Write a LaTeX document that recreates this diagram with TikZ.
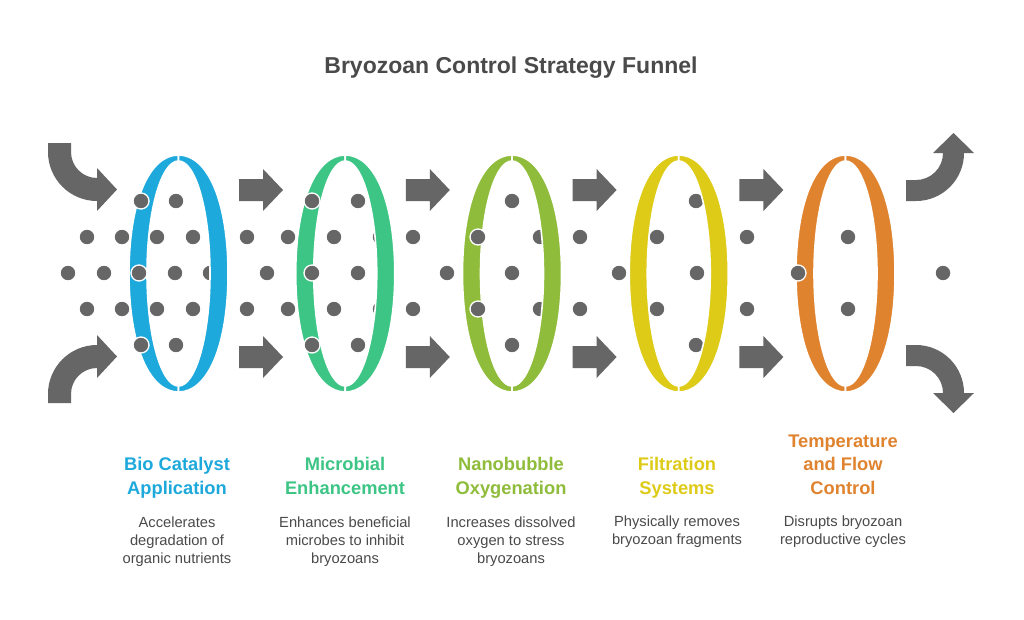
\documentclass[tikz,border=0pt]{standalone}
\usepackage{fontspec}
\setmainfont{Liberation Sans}
\definecolor{cBlue}{HTML}{1DA9DB}
\definecolor{cGreen}{HTML}{3DC585}
\definecolor{cLime}{HTML}{8FBC3B}
\definecolor{cYellow}{HTML}{DECB17}
\definecolor{cOrange}{HTML}{E0832F}
\definecolor{dotgray}{HTML}{666666}
\definecolor{arrowgray}{HTML}{666666}
\definecolor{textgray}{HTML}{4A4A4A}
\begin{document}
\begin{tikzpicture}[x=1pt,y=-1pt,
  dot/.style={fill=dotgray, draw=white, line width=1.3pt},
  crescent/.style={draw=white, line width=1.6pt},
  blockarrow/.style={fill=arrowgray},
  titletext/.style={font=\fontsize{23}{27}\selectfont\bfseries, text=textgray, inner sep=0pt, anchor=base},
  headtext/.style={font=\fontsize{18.3}{22}\selectfont\bfseries, inner sep=0pt, anchor=base},
  desctext/.style={font=\fontsize{14.7}{18}\selectfont, text=textgray, inner sep=0pt, anchor=base}]
\fill[white] (0,0) rectangle (1024,619);
\useasboundingbox (0,0) rectangle (1024,619);

% left halves of rings
\foreach \cx/\col in {178.5/cBlue, 345.25/cGreen, 512/cLime, 678.75/cYellow, 845.5/cOrange}{
  \path[fill=\col, crescent] (\cx,155)
    .. controls (\cx-29.7,155) and (\cx-49.5,202.4) .. (\cx-49.5,273.5)
    .. controls (\cx-49.5,344.6) and (\cx-29.7,392) .. (\cx,392)
    -- (\cx,386)
    .. controls (\cx-17.4,386) and (\cx-31.5,335.6) .. (\cx-31.5,273.5)
    .. controls (\cx-31.5,211.4) and (\cx-17.4,161) .. (\cx,161) -- cycle;
}

% dots
\foreach \x in {141,176,312,358,512,696}{
  \path[dot] (\x,201) circle[radius=8];
  \path[dot] (\x,345) circle[radius=8];
}
\foreach \x in {87,122,157,193,247,288,334,380,413,478,540,580,657,747,848}{
  \path[dot] (\x,237) circle[radius=8];
  \path[dot] (\x,309) circle[radius=8];
}
\foreach \x in {68,104,139,175,210,267,312,358,447,512,619,697,798,943}{
  \path[dot] (\x,273) circle[radius=8];
}

% right halves of rings
\foreach \cx/\col in {178.5/cBlue, 345.25/cGreen, 512/cLime, 678.75/cYellow, 845.5/cOrange}{
  \path[fill=\col, crescent] (\cx,155)
    .. controls (\cx+29.7,155) and (\cx+49.5,202.4) .. (\cx+49.5,273.5)
    .. controls (\cx+49.5,344.6) and (\cx+29.7,392) .. (\cx,392)
    -- (\cx,386)
    .. controls (\cx+17.4,386) and (\cx+31.5,335.6) .. (\cx+31.5,273.5)
    .. controls (\cx+31.5,211.4) and (\cx+17.4,161) .. (\cx,161) -- cycle;
}

% straight arrows between rings
\foreach \ax in {239,405.8,572.6,739.4}{
  \foreach \y in {190,357}{
    \fill[blockarrow] (\ax,\y-11) -- (\ax+24,\y-11) -- (\ax+24,\y-21) -- (\ax+44,\y)
      -- (\ax+24,\y+21) -- (\ax+24,\y+11) -- (\ax,\y+11) -- cycle;
  }
}

% curved arrows in
\fill[blockarrow] (48,143) -- (71,143) -- (71,152)
  arc[start angle=180, end angle=90, radius=26] -- (97,168) -- (117,189.5) -- (97,211) -- (97,201)
  arc[start angle=90, end angle=180, radius=49] -- cycle;
\fill[blockarrow] (48,403) -- (71,403) -- (71,394)
  arc[start angle=180, end angle=270, radius=26] -- (97,378) -- (117,356.5) -- (97,335) -- (97,345)
  arc[start angle=270, end angle=180, radius=49] -- cycle;

% curved arrows out
\fill[blockarrow] (906,180) -- (916,180)
  arc[start angle=90, end angle=0, radius=27] -- (933,153) -- (953.5,133) -- (974,153) -- (964,153)
  arc[start angle=0, end angle=90, radius=48] -- (906,201) -- cycle;
\fill[blockarrow] (906,366) -- (916,366)
  arc[start angle=270, end angle=360, radius=27] -- (933,393) -- (953.5,413) -- (974,393) -- (964,393)
  arc[start angle=360, end angle=270, radius=48] -- (906,345) -- cycle;

% title
\node[titletext] (title) at (511,73) {Bryozoan Control Strategy Funnel};

% headings
\node[headtext, text=cBlue] (h1a) at (177,470.5) {Bio Catalyst};
\node[headtext, text=cBlue] (h1b) at (177,494) {Application};
\node[headtext, text=cGreen] (h2a) at (345,470.5) {Microbial};
\node[headtext, text=cGreen] (h2b) at (345,494) {Enhancement};
\node[headtext, text=cLime] (h3a) at (511,470.5) {Nanobubble};
\node[headtext, text=cLime] (h3b) at (511,494) {Oxygenation};
\node[headtext, text=cYellow] (h4a) at (677,470.5) {Filtration};
\node[headtext, text=cYellow] (h4b) at (677,494) {Systems};
\node[headtext, text=cOrange] (h5a) at (843,447) {Temperature};
\node[headtext, text=cOrange] (h5b) at (843,470.5) {and Flow};
\node[headtext, text=cOrange] (h5c) at (843,494) {Control};

% descriptions
\node[desctext] (d1a) at (177,527) {Accelerates};
\node[desctext] (d1b) at (177,545) {degradation of};
\node[desctext] (d1c) at (177,563) {organic nutrients};
\node[desctext] (d2a) at (345,527) {Enhances beneficial};
\node[desctext] (d2b) at (345,545) {microbes to inhibit};
\node[desctext] (d2c) at (345,563) {bryozoans};
\node[desctext] (d3a) at (511,527) {Increases dissolved};
\node[desctext] (d3b) at (511,545) {oxygen to stress};
\node[desctext] (d3c) at (511,563) {bryozoans};
\node[desctext] (d4a) at (677,526) {Physically removes};
\node[desctext] (d4b) at (677,544) {bryozoan fragments};
\node[desctext] (d5a) at (843,526) {Disrupts bryozoan};
\node[desctext] (d5b) at (843,544) {reproductive cycles};
\end{tikzpicture}
\end{document}
